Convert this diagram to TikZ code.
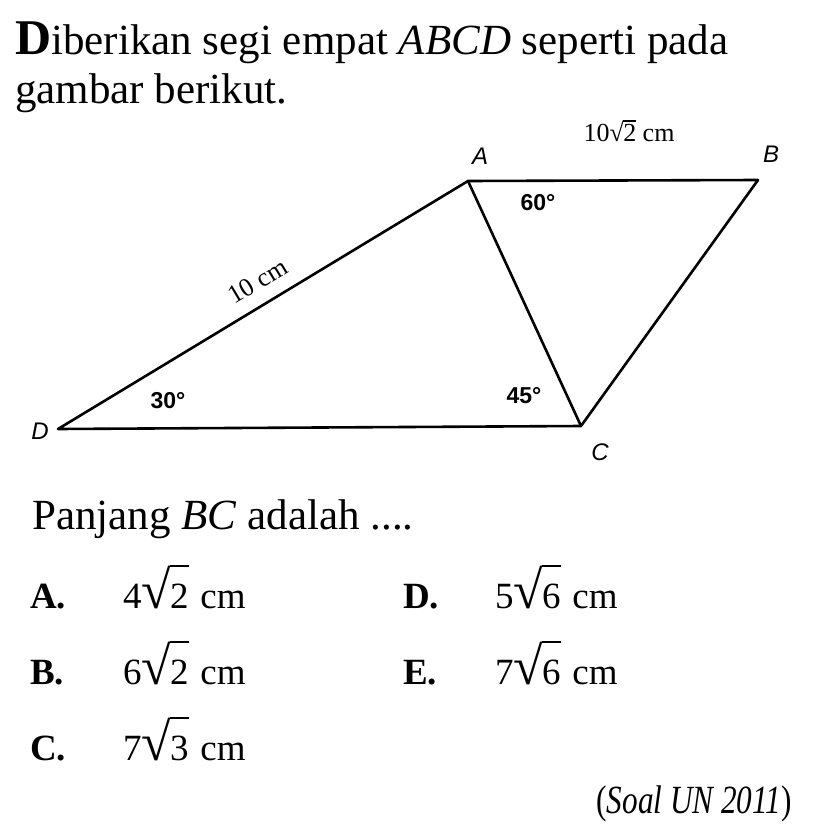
\documentclass[tikz,border=0pt]{standalone}
\usepackage{fontspec}
\setmainfont{Liberation Serif}
\newfontfamily\lsans{Liberation Sans}
\newcommand{\rt}[1]{{√\kern-0.02em\setbox0\hbox{#1}\rlap{\vrule height 0.80em depth -0.755em width \wd0}\box0}}
\newcommand{\rtb}[1]{{\scalebox{1.45}{√}\kern-0.03em\setbox0\hbox{#1}\rlap{\vrule height 1.155em depth -1.12em width 1.05\wd0}\box0}}
\begin{document}
\begin{tikzpicture}[x=1pt,y=-1pt,
  body/.style={inner sep=0pt,anchor=base west,font=\fontsize{43}{48}\selectfont},
  vlabel/.style={inner sep=0pt,font=\lsans\itshape\fontsize{24}{26}\selectfont},
  anglab/.style={inner sep=0pt,font=\lsans\bfseries\fontsize{23}{25}\selectfont},
  lenlab/.style={inner sep=0pt,font=\fontsize{26}{28}\selectfont},
  optlet/.style={inner sep=0pt,anchor=base west,font=\bfseries\fontsize{37}{40}\selectfont},
  optval/.style={inner sep=0pt,anchor=base west,font=\fontsize{37}{40}\selectfont},
  edge/.style={line width=2.6pt,line join=round,line cap=round}]
\useasboundingbox[fill=white] (0,0) rectangle (828,840);
% title
\node[body] (t1) at (15,55) {{\bfseries\fontsize{50}{50}\selectfont D}iberikan segi empat \textit{ABCD} seperti pada};
\node[body] (t2) at (15,103) {gambar berikut.};
% figure
\coordinate (A) at (468,181);
\coordinate (B) at (758,180);
\coordinate (C) at (581,426);
\coordinate (D) at (58,429);
\draw[edge] (D) -- (A) -- (B) -- (C) -- cycle;
\draw[edge] (A) -- (C);
\node[vlabel] (lA) at (480,156) {A};
\node[vlabel] (lB) at (771,154) {B};
\node[vlabel] (lC) at (600,452) {C};
\node[vlabel] (lD) at (40,431) {D};
\node[lenlab] (lAB) at (629,131) {10\rt{2} cm};
\node[lenlab,rotate=31] (lDA) at (258,281) {10 cm};
\node[anglab] (a60) at (538,203) {60°};
\node[anglab] (a30) at (168,401) {30°};
\node[anglab] (a45) at (524,396) {45°};
% question
\node[body] (q) at (32,529) {Panjang \textit{BC} adalah ....};
\node[optlet] (oA) at (30,608) {A.};
\node[optval] (vA) at (123,608) {4\rtb{2}\hspace{0.32em}cm};
\node[optlet] (oB) at (30,684) {B.};
\node[optval] (vB) at (123,684) {6\rtb{2}\hspace{0.32em}cm};
\node[optlet] (oC) at (30,760) {C.};
\node[optval] (vC) at (123,760) {7\rtb{3}\hspace{0.32em}cm};
\node[optlet] (oD) at (403,608) {D.};
\node[optval] (vD) at (495,608) {5\rtb{6}\hspace{0.32em}cm};
\node[optlet] (oE) at (403,684) {E.};
\node[optval] (vE) at (495,684) {7\rtb{6}\hspace{0.32em}cm};
\node[inner sep=0pt,anchor=base east] (src) at (792,813) {\scalebox{0.78}[1]{\fontsize{40}{44}\selectfont(\textit{Soal UN 2011})}};
\end{tikzpicture}
\end{document}
